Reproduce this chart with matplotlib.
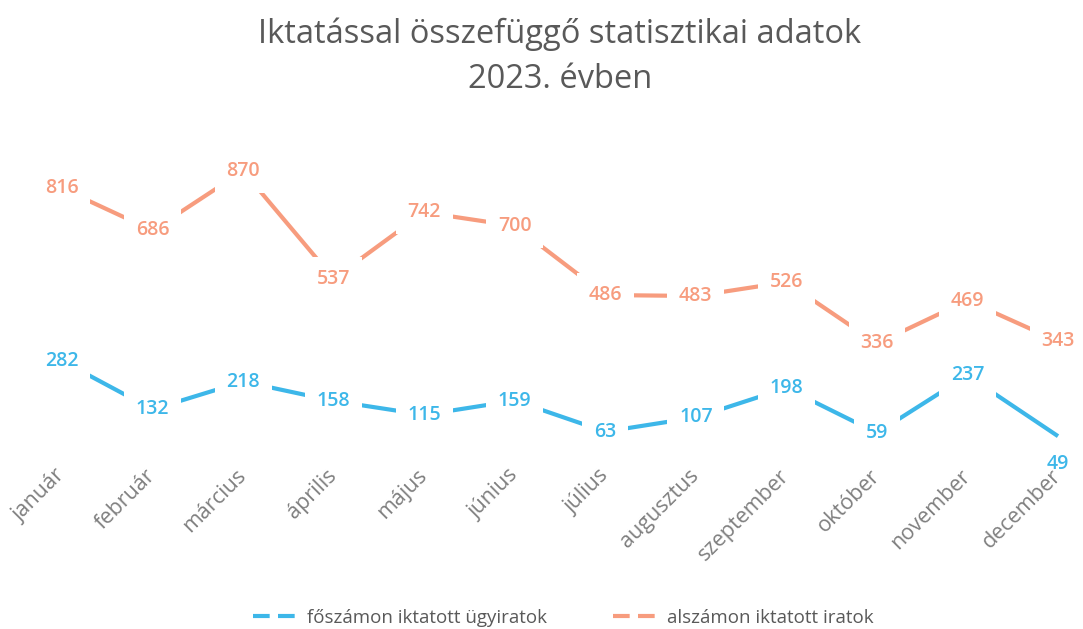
import matplotlib.pyplot as plt
from matplotlib.lines import Line2D

plt.rcParams['font.family'] = ['Open Sans', 'DejaVu Sans']

honapok = ['január', 'február', 'március', 'április', 'május', 'június',
           'július', 'augusztus', 'szeptember', 'október', 'november', 'december']
foszamon = [282, 132, 218, 158, 115, 159, 63, 107, 198, 59, 237, 49]
alszamon = [816, 686, 870, 537, 742, 700, 486, 483, 526, 336, 469, 343]

kek = '#3DB7E9'
narancs = '#F79C7E'
szurke = '#7F7F7F'

fig = plt.figure(figsize=(10.83, 6.29), dpi=100)
# axes: x 62..1058 px, y 0 -> 452 px, 870 -> 171 px
ax = fig.add_axes([62 / 1083, (629 - 452) / 629, (1058 - 62) / 1083, (452 - 171) / 629])
ax.set_xlim(0, 11)
ax.set_ylim(0, 870)

x = list(range(len(honapok)))
ax.plot(x, foszamon, color=kek, lw=3, solid_capstyle='butt', zorder=2, clip_on=False)
ax.plot(x, alszamon, color=narancs, lw=3, solid_capstyle='butt', zorder=2, clip_on=False)

box = dict(boxstyle='square,pad=0.6', fc='white', ec='none')
for i in x:
    # utolsó kék címke a pont alatt
    if i == 11:
        ax.annotate(str(foszamon[i]), (i, foszamon[i]), xytext=(0, -20), textcoords='offset points',
                    ha='center', va='center', color=kek, fontsize=14, fontweight='semibold',
                    zorder=3, annotation_clip=False)
    else:
        ax.annotate(str(foszamon[i]), (i, foszamon[i]), ha='center', va='center', color=kek,
                    fontsize=14, fontweight='semibold', bbox=box, zorder=3, annotation_clip=False)
    ax.annotate(str(alszamon[i]), (i, alszamon[i]), ha='center', va='center', color=narancs,
                fontsize=14, fontweight='semibold', bbox=box, zorder=3, annotation_clip=False)

ax.set_xticks(x)
ax.set_xticklabels(honapok, rotation=45, ha='right', va='center', rotation_mode='anchor',
                   color=szurke, fontsize=15.5)
ax.tick_params(axis='x', length=0, pad=15)
ax.xaxis.set_zorder(5)
ax.set_yticks([])
for s in ax.spines.values():
    s.set_visible(False)

fig.text(0.517, 1 - 43 / 629, 'Iktatással összefüggő statisztikai adatok',
         ha='center', va='baseline', color='#595959', fontsize=23.5)
fig.text(0.517, 1 - 88 / 629, '2023. évben',
         ha='center', va='baseline', color='#595959', fontsize=23.5)

handles = [Line2D([], [], color=kek, lw=3, linestyle=(0, (4, 2))),
           Line2D([], [], color=narancs, lw=3, linestyle=(0, (4, 2)))]
fig.legend(handles, ['főszámon iktatott ügyiratok', 'alszámon iktatott iratok'],
           loc='center', bbox_to_anchor=(0.52, 0.018), ncol=2, frameon=False,
           fontsize=13.5, labelcolor='#595959', handlelength=2.6, handletextpad=0.3,
           columnspacing=3.5)

fig.savefig('out.png', dpi=100)
